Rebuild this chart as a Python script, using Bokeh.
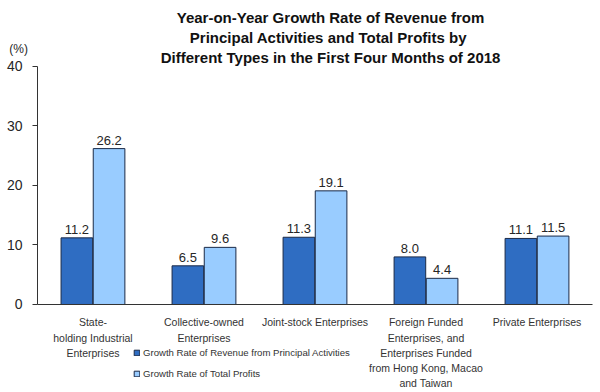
from bokeh.plotting import figure
from bokeh.models import (Range1d, FixedTicker, Label, Legend, LegendItem,
                          ColumnDataSource)
from bokeh.core.properties import value
from bokeh.embed import file_html
from bokeh.resources import INLINE

# ---- data ----
categories = ["State-\nholding Industrial\nEnterprises",
              "Collective-owned\nEnterprises",
              "Joint-stock Enterprises",
              "Foreign Funded\nEnterprises, and\nEnterprises Funded\nfrom Hong Kong, Macao\nand Taiwan",
              "Private Enterprises"]
revenue_growth = [11.2, 6.5, 11.3, 8.0, 11.1]
profit_growth = [26.2, 9.6, 19.1, 4.4, 11.5]
series_names = ["Growth Rate of Revenue from Principal Activities",
                "Growth Rate of Total Profits"]
y_ticks = [0, 10, 20, 30, 40]
title_lines = ["Year-on-Year Growth Rate of Revenue from",
               "Principal Activities and  Total Profits by",
               "Different Types in the First Four Months of 2018"]
unit_label = "(%)"

FONT = "Liberation Sans"
DARK = "#2F6DC2"
LIGHT = "#99CCFF"
EDGE = "#1B2A47"
OFF = 0.145
BW = 0.285

centers = [i + 0.5 for i in range(len(categories))]
src = ColumnDataSource(dict(
    xr=[c - OFF for c in centers],
    xp=[c + OFF for c in centers],
    rev=revenue_growth,
    prof=profit_growth,
    rev_t=["%.1f" % v for v in revenue_growth],
    prof_t=["%.1f" % v for v in profit_growth],
))

# frame fills the whole canvas; axes are pinned at x=0 / y=0
p = figure(width=600, height=392, output_backend="svg", toolbar_location=None,
           x_range=Range1d(-0.333, 5.072), y_range=Range1d(-14.79, 51.09),
           min_border=0)
p.outline_line_color = None
p.xgrid.grid_line_color = None
p.ygrid.grid_line_color = None
p.background_fill_color = "white"

r1 = p.vbar(x="xr", top="rev", width=BW, source=src,
            fill_color=DARK, line_color=EDGE, line_width=1)
r2 = p.vbar(x="xp", top="prof", width=BW, source=src,
            fill_color=LIGHT, line_color=EDGE, line_width=1)

p.text(x="xr", y="rev", text="rev_t", source=src,
       text_align="center", text_baseline="bottom", y_offset=-4,
       text_font=value(FONT), text_font_size="13px", text_color="#262626")
p.text(x="xp", y="prof", text="prof_t", source=src,
       text_align="center", text_baseline="bottom", y_offset=-4,
       text_font=value(FONT), text_font_size="13px", text_color="#262626")

# y axis
p.yaxis.fixed_location = 0
p.yaxis.bounds = (0, 40)
p.yaxis.ticker = FixedTicker(ticks=y_ticks)
p.yaxis.minor_tick_line_color = None
p.yaxis.major_tick_out = 5
p.yaxis.major_tick_in = 0
p.yaxis.major_label_standoff = 10
p.yaxis.major_label_text_font = FONT
p.yaxis.major_label_text_font_size = "14px"
p.yaxis.major_label_text_color = "#262626"
p.yaxis.axis_line_color = "#333333"
p.yaxis.major_tick_line_color = "#333333"

# x axis
p.xaxis.fixed_location = 0
p.xaxis.bounds = (0, len(categories))
p.xaxis.ticker = FixedTicker(ticks=centers)
p.xaxis.major_label_overrides = {c: lab for c, lab in zip(centers, categories)}
p.xaxis.major_tick_line_color = None
p.xaxis.minor_tick_line_color = None
p.xaxis.major_label_standoff = 6
p.xaxis.major_label_text_font = FONT
p.xaxis.major_label_text_font_size = "10.5px"
p.xaxis.major_label_text_color = "#333333"
p.xaxis.major_label_text_line_height = 1.27
p.xaxis.axis_line_color = "#333333"

# title lines
for ty, line in zip([48.2, 44.9, 41.5], title_lines):
    p.add_layout(Label(x=2.64, y=ty, text=line, text_align="center", text_baseline="middle",
                       text_font=FONT, text_font_style="bold", text_font_size="15px",
                       text_color="#111111"))
p.add_layout(Label(x=-0.17, y=43.0, text=unit_label, text_align="center",
                   text_baseline="middle", text_font=FONT, text_font_size="12px",
                   text_color="#262626"))

legend = Legend(items=[LegendItem(label=series_names[0], renderers=[r1]),
                       LegendItem(label=series_names[1], renderers=[r2])],
                location=(133, 12), orientation="vertical",
                glyph_width=7, glyph_height=7, label_standoff=3, spacing=8,
                padding=0, margin=0, border_line_alpha=0, background_fill_alpha=0,
                label_text_font=FONT, label_text_font_size="9.6px",
                label_text_color="#333333", label_height=13)
p.add_layout(legend, "center")

open("out.html", "w").write(file_html(p, INLINE))
